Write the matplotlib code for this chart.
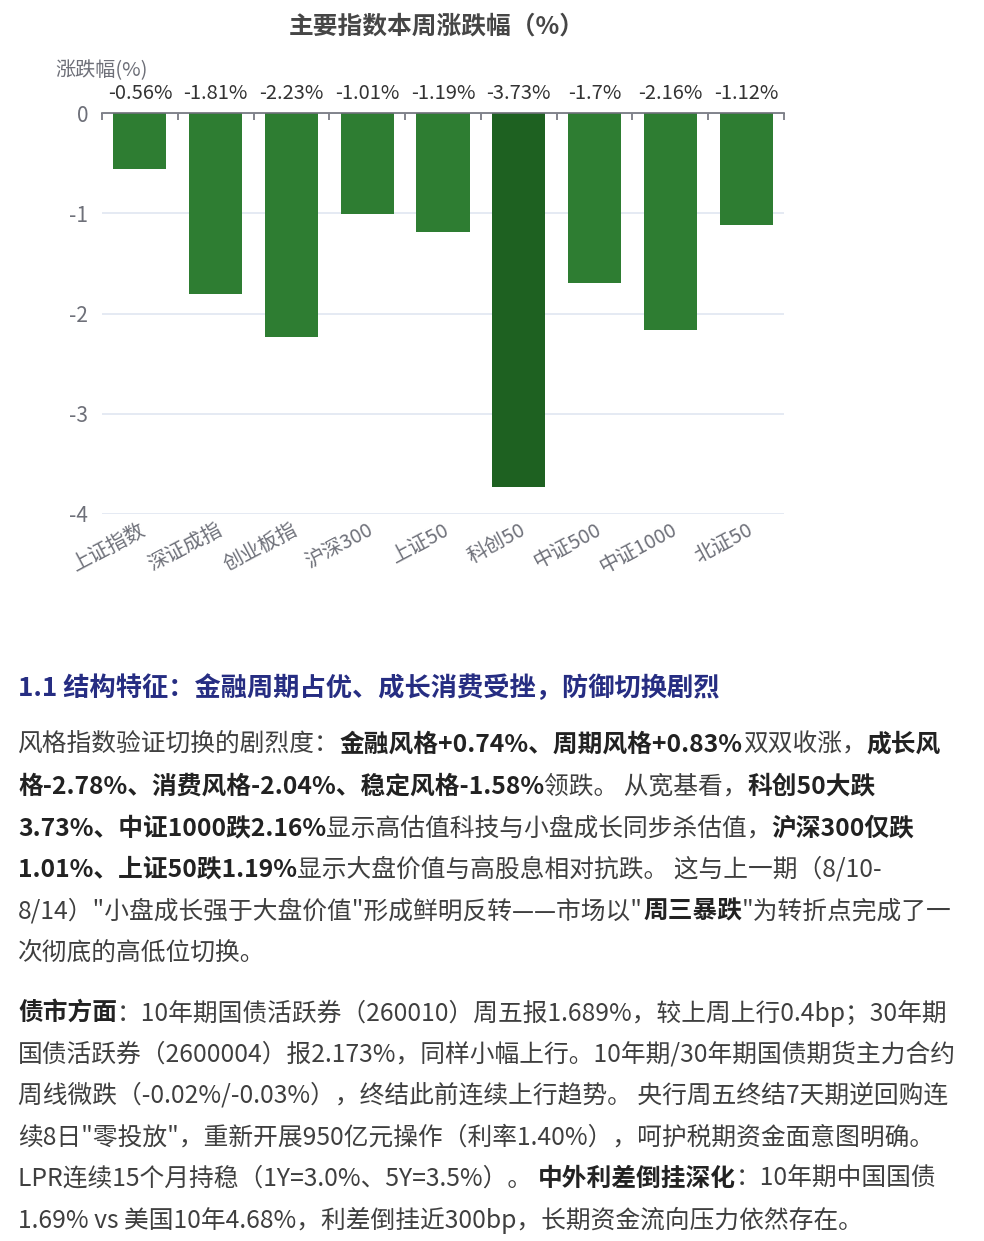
import matplotlib
matplotlib.use("Agg")
import matplotlib.pyplot as plt
import numpy as np

plt.rcParams['font.family'] = ['Noto Sans CJK SC', 'DejaVu Sans']

categories = ["上证指数", "深证成指", "创业板指", "沪深300", "上证50", "科创50", "中证500", "中证1000", "北证50"]
values = [-0.56, -1.81, -2.23, -1.01, -1.19, -3.73, -1.70, -2.16, -1.12]
yticks = [0, -1, -2, -3, -4]

title = "主要指数本周涨跌幅（%）"
yname = "涨跌幅(%)"

heading = "1.1 结构特征：金融周期占优、成长消费受挫，防御切换剧烈"
para1 = [
    [("风格指数验证切换的剧烈度：", False), ("金融风格+0.74%、周期风格+0.83%", True), ("双双收涨，", False), ("成长风", True)],
    [("格-2.78%、消费风格-2.04%、稳定风格-1.58%", True), ("领跌。 从宽基看，", False), ("科创50大跌", True)],
    [("3.73%、中证1000跌2.16%", True), ("显示高估值科技与小盘成长同步杀估值，", False), ("沪深300仅跌", True)],
    [("1.01%、上证50跌1.19%", True), ("显示大盘价值与高股息相对抗跌。 这与上一期（8/10-", False)],
    [("8/14）\"小盘成长强于大盘价值\"形成鲜明反转——市场以\"", False), ("周三暴跌", True), ("\"为转折点完成了一", False)],
    [("次彻底的高低位切换。", False)],
]
para2 = [
    [("债市方面", True), ("：10年期国债活跃券（260010）周五报1.689%，较上周上行0.4bp；30年期", False)],
    [("国债活跃券（2600004）报2.173%，同样小幅上行。10年期/30年期国债期货主力合约", False)],
    [("周线微跌（-0.02%/-0.03%），终结此前连续上行趋势。 央行周五终结7天期逆回购连", False)],
    [("续8日\"零投放\"，重新开展950亿元操作（利率1.40%），呵护税期资金面意图明确。", False)],
    [("LPR连续15个月持稳（1Y=3.0%、5Y=3.5%）。 ", False), ("中外利差倒挂深化", True), ("：10年期中国国债", False)],
    [("1.69% vs 美国10年4.68%，利差倒挂近300bp，长期资金流向压力依然存在。", False)],
]

W, H = 984, 1241
fig = plt.figure(figsize=(W / 100, H / 100), dpi=100)
fig.patch.set_facecolor('white')

ax = fig.add_axes([102 / W, 1 - 514 / H, (784 - 102) / W, (514 - 113) / H])
x = np.arange(len(categories))
colors = ['#1E6121' if v == min(values) else '#2E7D32' for v in values]
ax.bar(x, values, width=0.70, color=colors, zorder=3)
ax.set_xlim(-0.5, len(categories) - 0.5)
ax.set_ylim(-4, 0)
ax.set_yticks(yticks)
ax.set_yticklabels([str(t) for t in yticks], fontsize=15, color='#6E7079')
ax.tick_params(axis='y', length=0, pad=10)
ax.yaxis.grid(True, color='#E0E6F1', linewidth=1.2, zorder=0)
for s in ['left', 'right', 'bottom']:
    ax.spines[s].set_visible(False)
ax.spines['top'].set_color('#6E7079')
ax.spines['top'].set_linewidth(1.2)
ax.spines['top'].set_zorder(4)

ax.set_xticks(x)
ax.set_xticklabels(categories, rotation=28, ha='right', rotation_mode='anchor', fontsize=14.5, color='#6E7079')
ax.tick_params(axis='x', which='major', length=0, pad=4)
ax.set_xticks(np.arange(-0.5, len(categories), 1.0), minor=True)
ax.tick_params(axis='x', which='minor', bottom=False, top=True, direction='in', length=5, width=1.2, color='#6E7079')

for xi, v in zip(x, values):
    ax.annotate(f"{v:g}%", (xi, 0), xytext=(0, 14.0), textcoords='offset points',
                ha='center', va='center', fontsize=14.5, color='#333333')

fig.text(102 / W, 1 - 71 / H, yname, ha='center', va='center', fontsize=14.5, color='#6E7079')
fig.text(437 / W, 1 - 27 / H, title, ha='center', va='center', fontsize=17.8, fontweight='bold', color='#464646')

renderer = fig.canvas.get_renderer()

def draw_line(y_px, segs, size, normal_color='#3F3F3F', bold_color='#222222'):
    xp = 18.0
    for txt, bold in segs:
        t = fig.text(xp / W, 1 - y_px / H, txt, ha='left', va='center', fontsize=size,
                     fontweight='bold' if bold else 'normal',
                     color=bold_color if bold else normal_color)
        bb = t.get_window_extent(renderer)
        xp += bb.width

draw_line(689, [(heading, True)], 18.9, bold_color='#262D82')

y0 = 745
for i, segs in enumerate(para1):
    draw_line(y0 + i * 41.6, segs, 17.8)

y1 = 1013
for i, segs in enumerate(para2):
    draw_line(y1 + i * 41.4, segs, 17.8)

fig.savefig("out.png", dpi=100, facecolor='white')
